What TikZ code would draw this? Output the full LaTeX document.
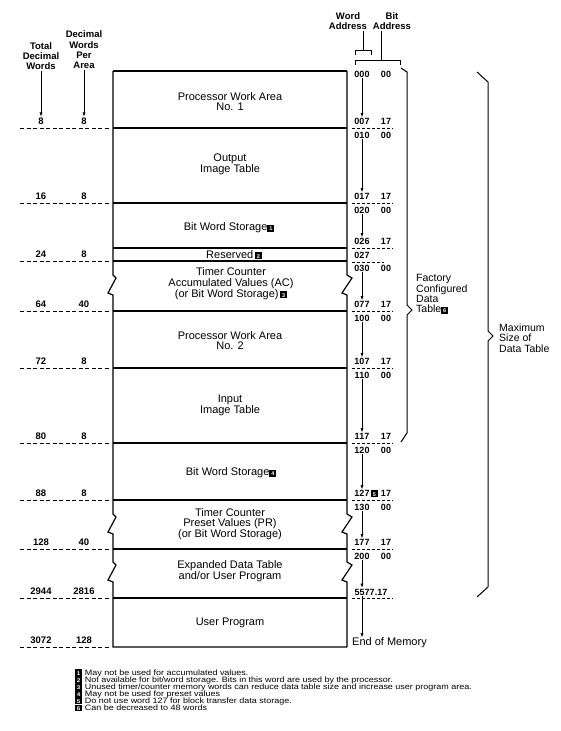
\documentclass[tikz,border=0pt]{standalone}
\usepackage{fontspec}
\setmainfont{Liberation Sans}
\newfontfamily\notefont[FakeStretch=1.15]{Liberation Sans}
\usetikzlibrary{arrows.meta}

% small black footnote square with a white number
\newcommand{\fnbox}[1]{{\setlength{\fboxsep}{0.7pt}\colorbox{black}{\makebox[5.3pt]{\rule{0pt}{5.5pt}\textcolor{white}{\fontsize{5.5}{5.5}\selectfont\bfseries #1}}}}}

\begin{document}
\begin{tikzpicture}[
    x=1pt, y=-1pt,
    >={Latex[length=4.5pt,width=3pt]},
    boxline/.style={line width=1.2pt, line join=miter},
    divider/.style={line width=1.1pt},
    leader/.style={line width=0.8pt, dash pattern=on 4pt off 2.5pt},
    tick/.style={line width=0.7pt, dash pattern=on 3pt off 2pt},
    region/.style={font=\fontsize{11}{10.8}\selectfont, align=center, inner sep=1pt},
    colhead/.style={font=\fontsize{9.5}{10.3}\selectfont\bfseries, align=center, inner sep=1pt},
    numlbl/.style={font=\fontsize{9.5}{10}\selectfont\bfseries, inner sep=0.5pt},
    addr/.style={font=\fontsize{9}{9}\selectfont\bfseries, inner sep=0.6pt},
    bracestroke/.style={line width=1pt},
    bracetext/.style={font=\fontsize{10.5}{10.4}\selectfont, align=left, anchor=west, inner sep=0pt},
    fnote/.style={font=\notefont\fontsize{7.8}{7}\selectfont, anchor=west, inner sep=0pt},
    ptr/.style={->, line width=0.8pt}
  ]
  \useasboundingbox (0,0) rectangle (560,731);

  % --- memory map box with break marks ---
  \draw[boxline] (113,71) -- (347,71);
  \draw[boxline] (113,71) -- (113,275) -- (116,278) -- (108,293) -- (113,295)
                 -- (113,514) -- (116,517) -- (108,532) -- (113,534)
                 -- (113,562) -- (116,565) -- (108,580) -- (113,582)
                 -- (113,647) -- (347,647);
  \draw[boxline] (347,71) -- (347,275) -- (352,278) -- (342,293) -- (347,295)
                 -- (347,514) -- (352,517) -- (342,532) -- (347,534)
                 -- (347,562) -- (352,565) -- (342,580) -- (347,582)
                 -- (347,647);
  \foreach \y in {128,203,248,261,311,368,443,500,549,598}
    \draw[divider] (113,\y) -- (347,\y);

  \node[region] (pwa1)     at (230,101.5) {Processor Work Area\\No. 1};
  \node[region] (outimg)   at (230,164.5) {Output\\Image Table};
  \node[region] (bws1)     at (229,228)   {Bit Word Storage\fnbox{1}};
  \node[region] (resv)     at (234,255)   {Reserved\,\fnbox{2}};
  \node[region] (tcac)     at (231,283.5) {Timer Counter\\Accumulated Values (AC)\\(or Bit Word Storage)\,\fnbox{3}};
  \node[region] (pwa2)     at (230,340.5) {Processor Work Area\\No. 2};
  \node[region] (inimg)    at (230,405.5) {Input\\Image Table};
  \node[region] (bws2)     at (231,473)   {Bit Word Storage\fnbox{4}};
  \node[region] (tcpr)     at (230,524)   {Timer Counter\\Preset Values (PR)\\(or Bit Word Storage)};
  \node[region] (expdt)    at (230,571)   {Expanded Data Table\\and/or User Program};
  \node[region] (userprog) at (230,623)   {User Program};

  % --- decimal word counts (left) ---
  \node[colhead] (tdw)  at (41,56) {Total\\Decimal\\Words};
  \node[colhead] (dwpa) at (84,50) {Decimal\\Words\\Per\\Area};
  \foreach \y/\t/\p [count=\i] in {128/8/8, 203/16/8, 261/24/8, 311/64/40, 368/72/8,
                                   443/80/8, 500/88/8, 549/128/40, 598/2944/2816, 647/3072/128}{
    \draw[leader] (20,\y) -- (110,\y);
    \node[numlbl] (tot\i) at (41,\y-7) {\t};
    \node[numlbl] (per\i) at (84,\y-7) {\p};
  }
  \draw[ptr] (tdw.south) -- (tot1.north);
  \draw[ptr] (dwpa.south) -- (per1.north);

  % --- word / bit addresses (right) ---
  \node[colhead] (wordhd) at (348,21) {Word\\Address};
  \node[colhead] (bithd)  at (392,21) {Bit\\Address};
  \coordinate (wbr) at (363,50);
  \coordinate (bbr) at (381,60);
  \draw[line width=0.8pt] (wordhd.south -| wbr) -- (wbr);
  \draw[line width=0.8pt] (355,55) -- (355,50) -- (371,50) -- (371,55);
  \draw[line width=0.8pt] (bithd.south -| bbr) -- (bbr);
  \draw[line width=0.8pt] (355,65) -- (355,60) -- (400,60) -- (400,65);

  \node[addr] (w000) at (362,74) {000};
  \node[addr] (b000) at (386,74) {00};
  \foreach \y/\hi/\lo in {128/007/010, 203/017/020, 311/077/100, 368/107/110,
                          443/117/120, 500/127/130, 549/177/200}{
    \node[addr] (w\hi) at (362,\y-6.5) {\hi};
    \node[addr] (b\hi) at (386,\y-6.5) {17};
    \node[addr] (w\lo) at (362,\y+7.5) {\lo};
    \node[addr] (b\lo) at (386,\y+7.5) {00};
    \draw[tick] (352,\y) -- (393,\y);
  }
  \node[anchor=west, inner sep=0pt] (fn5mark) at ([xshift=0.5pt]w127.east) {\fnbox{5}};
  \node[addr] (w026) at (362,241.5) {026};
  \node[addr] (b026) at (386,241.5) {17};
  \draw[tick] (352,248) -- (393,248);
  \node[addr] (w027) at (362,255) {027};
  \draw[tick] (352,262) -- (384,262);
  \node[addr] (w030) at (362,268) {030};
  \node[addr] (b030) at (386,268) {00};
  \node[addr] (w5577) at (371,592) {5577.17};
  \draw[tick] (352,598) -- (393,598);
  \node[region, anchor=west, inner sep=0pt] (eom) at (352,643) {End of Memory};

  \draw[ptr] (w000) -- (w007);
  \draw[ptr] (w010) -- (w017);
  \draw[ptr] (w020) -- (w026);
  \draw[ptr] (w030) -- (w077);
  \draw[ptr] (w100) -- (w107);
  \draw[ptr] (w110) -- (w117);
  \draw[ptr] (w120) -- (w127);
  \draw[ptr] (w130) -- (w177);
  \draw[ptr] (w200) -- (w200 |- w5577.north);
  \draw[ptr] (w5577.south -| w200) -- (eom.north -| w200);

  % --- braces ---
  \draw[bracestroke] (401,68) -- (407,72) -- (407,305) -- (412,310) -- (407,315) -- (407,433) -- (401,442);
  \node[bracetext] (factory) at (416,294) {Factory\\Configured\\Data\\Table\fnbox{6}};
  \draw[bracestroke] (477,72) -- (488,82) -- (488,331) -- (493,336) -- (488,341) -- (488,587) -- (477,597);
  \node[bracetext] (maxsize) at (499,338) {Maximum\\Size of\\Data Table};

  % --- footnotes ---
  \node[fnote] (fn1) at (75,673.3) {\fnbox{1}\hspace{3pt}May not be used for accumulated values.};
  \node[fnote] (fn2) at (75,680.3) {\fnbox{2}\hspace{3pt}Not available for bit/word storage. Bits in this word are used by the processor.};
  \node[fnote] (fn3) at (75,687.3) {\fnbox{3}\hspace{3pt}Unused timer/counter memory words can reduce data table size and increase user program area.};
  \node[fnote] (fn4) at (75,694.3) {\fnbox{4}\hspace{3pt}May not be used for preset values};
  \node[fnote] (fn5) at (75,701)   {\fnbox{5}\hspace{3pt}Do not use word 127 for block transfer data storage.};
  \node[fnote] (fn6) at (75,708)   {\fnbox{6}\hspace{3pt}Can be decreased to 48 words};

\end{tikzpicture}
\end{document}
